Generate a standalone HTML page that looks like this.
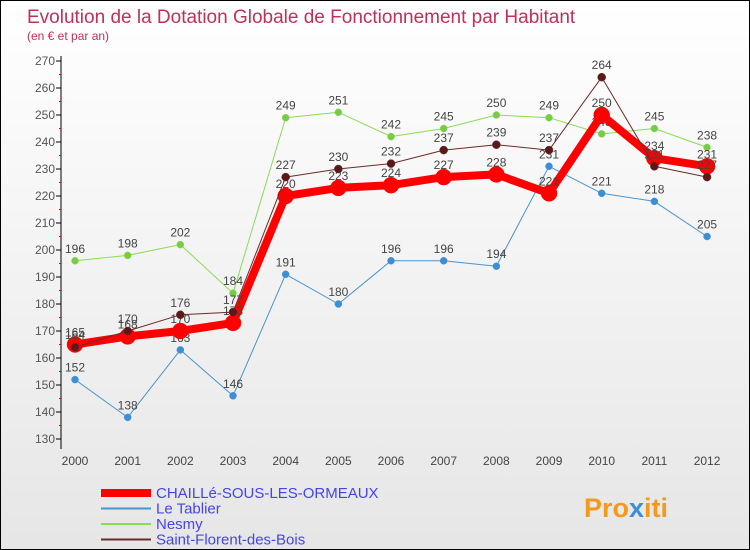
<!DOCTYPE html>
<html><head><meta charset="utf-8"><style>
body{margin:0;width:750px;height:550px;overflow:hidden;font-family:"Liberation Sans",sans-serif}
#wrap{position:relative;width:748px;height:548px;border:1px solid #000;background:linear-gradient(#fff,#e6e6e6)}
</style></head><body>
<div id="wrap">
<svg id="chart" width="748" height="548" style="position:absolute;left:0;top:0">
<text x="26" y="22" font-size="19" fill="#c0305a" font-weight="300">Evolution de la Dotation Globale de Fonctionnement par Habitant</text>
<text x="26" y="39" font-size="12" fill="#c0305a">(en € et par an)</text>
<g id="axes"></g><g id="series"></g><g id="legend"></g>
<text x="583" y="516" font-size="27" font-weight="bold" fill="#f39a1e">Pro<tspan fill="#3a8fd6">x</tspan>iti</text>
</svg>
</div>
<script>
const years=[2000,2001,2002,2003,2004,2005,2006,2007,2008,2009,2010,2011,2012];
const chaille=[165,168,170,173,220,223,224,227,228,221,250,234,231];
const tablier=[152,138,163,146,191,180,196,196,194,231,221,218,205];
const nesmy=[196,198,202,184,249,251,242,245,250,249,243,245,238];
const stflorent=[164,170,176,177,227,230,232,237,239,237,264,231,227];
const yTicks=[130,140,150,160,170,180,190,200,210,220,230,240,250,260,270];
const NS="http://www.w3.org/2000/svg";
const x=i=>74+i*52.67;
const y=v=>438-(v-130)*(378/140);
function mk(tag,attrs,parent){const e=document.createElementNS(NS,tag);for(const k in attrs)e.setAttribute(k,attrs[k]);parent.appendChild(e);return e;}
const axes=document.getElementById('axes');
let ax=mk('line',{x1:60,y1:y(270)-5,x2:60,y2:448,stroke:'#000'},axes);


yTicks.forEach(v=>{
  mk('line',{x1:55,x2:60,y1:y(v),y2:y(v),stroke:'#000'},axes);
  if(v<270) mk('line',{x1:58,x2:60,y1:y(v+5),y2:y(v+5),stroke:'#e00'},axes);
  const t=mk('text',{x:54,y:y(v)+4,'font-size':12,fill:'#555','text-anchor':'end'},axes);
  t.textContent=v;
  
  
});
years.forEach((yr,i)=>{
  const t=mk('text',{x:x(i),y:464,'font-size':12,fill:'#444','text-anchor':'middle'},axes);
  t.textContent=yr;
  
  
});
const ser=document.getElementById('series');
function draw(data,color,w,r,name,dot){
  const g=mk('g',{},ser);
  
  
  mk('polyline',{points:data.map((v,i)=>x(i)+','+y(v)).join(' '),fill:'none',stroke:color,'stroke-width':w,'stroke-linejoin':'round'},g);
  data.forEach((v,i)=>{
    const c=mk('circle',{cx:x(i),cy:y(v),r:r,fill:dot,stroke:color,'stroke-width':0.5},g);
    
    
    const t=mk('text',{x:x(i),y:y(v)-8,'font-size':12,fill:'#444','text-anchor':'middle'},g);
    t.textContent=v;
    
    
  });
}
draw(tablier,'#4a94cc',1,3.5,'series-le-tablier','#3a8fd6');
draw(nesmy,'#88dd55',1,3.5,'series-nesmy','#77cc44');
draw(chaille,'#ff0000',8,8,'series-chaille','#ff0000');
draw(stflorent,'#6b2a2a',1,4,'series-saint-florent','#5a1a1a');
const leg=document.getElementById('legend');
const items=[['CHAILLé-SOUS-LES-ORMEAUX','#ff0000',8],['Le Tablier','#4a94cc',2],['Nesmy','#88dd55',2],['Saint-Florent-des-Bois','#6b2a2a',2]];
items.forEach((it,k)=>{
  const yy=492+k*15.5;
  const g=mk('g',{},leg);
  
  
  mk('line',{x1:100,x2:150,y1:yy,y2:yy,stroke:it[1],'stroke-width':it[2]},g);
  const t=mk('text',{x:155,y:yy+5,'font-size':15,fill:'#4444ee'},g);
  t.textContent=it[0];
});
</script>
</body></html>
